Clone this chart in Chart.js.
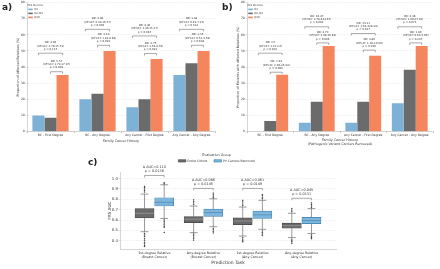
<!DOCTYPE html>
<html><head><meta charset="utf-8">
<script src="https://cdn.jsdelivr.net/npm/chart.js@4.4.1/dist/chart.umd.min.js"></script>
<style>
html,body{margin:0;padding:0;background:#fff;width:440px;height:269px;overflow:hidden;font-family:'DejaVu Sans',sans-serif;}
canvas{position:absolute;display:block;}
.lbl{position:absolute;font-weight:bold;font-size:9px;line-height:9px;color:#222;font-family:'DejaVu Sans',sans-serif;}
</style></head><body>
<canvas id="ca" width="218" height="147" style="left:0;top:0"></canvas>
<canvas id="cb" width="218" height="149" style="left:220px;top:0"></canvas>
<canvas id="cc" width="276" height="120" style="left:97px;top:149px"></canvas>
<div class="lbl" style="left:2px;top:3px">a)</div>
<div class="lbl" style="left:222px;top:3px">b)</div>
<div class="lbl" style="left:88px;top:158px">c)</div>
<script>
// ---------- data: panels a & b ----------
const barCategories = ['BC - First Degree','BC - Any Degree','Any Cancer - First Degree','Any Cancer - Any Degree'];
const decileLabels = ['Q1','Q2-Q9','Q10'];
const barTicks = [0,10,20,30,40,50,60,70,80];
const aQ1 = [10, 20, 15, 35];
const aQ2Q9 = [8.5, 23.5, 20, 42.3];
const aQ10 = [35, 50, 45, 50];
const bQ1 = [0, 5.5, 5.5, 17.5];
const bQ2Q9 = [6.5, 18.5, 18.5, 38.3];
const bQ10 = [35.2, 53.1, 47, 53.1];
const aUpperY = [48.6, 63.4, 59.3, 63.4];
const aLowerY = [37.1, 53.5, 48.4, 53.5];
const aUpperText = [
  ['OR: 4.86','(95%CI: 1.70-15.73)','p = 0.117'],
  ['OR: 3.86','(95%CI: 0.93-16.77)','p = 0.096'],
  ['OR: 4.46','(95%CI: 1.30-15.17)','p = 0.087'],
  ['OR: 1.83','(95%CI: 0.43-7.27)','p = 0.522']];
const aLowerText = [
  ['OR: 5.57','(95%CI: 1.79-17.97)','p = 0.003'],
  ['OR: 3.19','(95%CI: 1.18-8.68)','p = 0.029'],
  ['OR: 3.75','(95%CI: 1.53-8.70)','p = 0.022'],
  ['OR: 1.35','(95%CI: 0.52-3.58)','p = 0.638']];
const bUpperY = [48.6, 65, 60.8, 65];
const bLowerY = [36.8, 55, 50.5, 55];
const bUpperText = [
  ['OR: inf','(95%CI: 1.31-inf)','p = 0.028'],
  ['OR: 16.47','(95%CI: 3.78-413.67)','p = 0.002'],
  ['OR: 13.11','(95%CI: 1.58-328.34)','p = 0.017'],
  ['OR: 4.98','(95%CI: 1.00-27.39)','p = 0.071']];
const bLowerText = [
  ['OR: 7.34','(95%CI: 2.04-26.44)','p = 0.002'],
  ['OR: 4.79','(95%CI: 1.98-16.83)','p = 0.006'],
  ['OR: 3.80','(95%CI: 1.39-10.90)','p = 0.016'],
  ['OR: 1.80','(95%CI: 0.63-5.06)','p = 0.297']];

// ---------- data: panel c ----------
const taskLabels = [['1st-degree Relative','(Breast Cancer)'],['Any-degree Relative','(Breast Cancer)'],['1st-degree Relative','(Any Cancer)'],['Any-degree Relative','(Any Cancer)']];
const taskTicks = [0,1,2,3];
const aucTicks = [0.4,0.5,0.6,0.7,0.8,0.9,1.0];
const groupNames = ['Entire Cohort','PV Carriers Removed'];
const entireQ1 = [0.62, 0.575, 0.555, 0.52];
const entireMed = [0.665, 0.607, 0.59, 0.545];
const entireQ3 = [0.71, 0.633, 0.62, 0.57];
const entireLo = [0.487, 0.478, 0.445, 0.43];
const entireHi = [0.85, 0.735, 0.725, 0.665];
const entireFliers = [
  [0.87,0.885,0.9,0.915,0.925,0.47,0.455,0.44,0.42,0.405,0.385,0.37,0.355,0.345],
  [0.75,0.765,0.78,0.795,0.465,0.45,0.435,0.42,0.405],
  [0.74,0.755,0.775,0.79,0.43,0.415,0.4,0.39],
  [0.68,0.695,0.71,0.415,0.4,0.39,0.375]];
const pvQ1 = [0.735, 0.634, 0.615, 0.565];
const pvMed = [0.77, 0.672, 0.65, 0.595];
const pvQ3 = [0.815, 0.705, 0.685, 0.625];
const pvLo = [0.615, 0.535, 0.51, 0.47];
const pvHi = [0.94, 0.805, 0.79, 0.71];
const pvFliers = [
  [0.95,0.96,0.6,0.585,0.57,0.555,0.54,0.53,0.48],
  [0.815,0.83,0.845,0.86,0.52,0.505,0.49,0.475],
  [0.805,0.82,0.835,0.845,0.495,0.48,0.465,0.45],
  [0.72,0.735,0.75,0.765,0.455,0.44,0.43,0.42]];
const deltaAUC = ['0.110','0.066','0.061','0.045'];
const pValues = ['0.0136','0.0145','0.0149','0.0131'];
const cBracketY = [1.03, 0.905, 0.905, 0.81];

// ---------- styles ----------
const COL_Q1 = '#7db1d6', COL_Q29 = '#6b6b6b', COL_Q10 = '#f4855d';
const FONT = "'DejaVu Sans'";
const TXT = '#333';

function bracketPlugin(upY, upTxt, loY, loTxt){
  return {id:'brackets', afterDatasetsDraw(chart){
    const ctx = chart.ctx, ys = chart.scales.y;
    const m0 = chart.getDatasetMeta(0), m1 = chart.getDatasetMeta(1), m2 = chart.getDatasetMeta(2);
    ctx.save();
    ctx.strokeStyle = '#555'; ctx.lineWidth = 0.5; ctx.fillStyle = TXT;
    ctx.font = '2.7px ' + FONT; ctx.textAlign = 'center'; ctx.textBaseline = 'middle';
    const draw = (x1, x2, y, lines) => {
      ctx.beginPath(); ctx.moveTo(x1, y + 2); ctx.lineTo(x1, y); ctx.lineTo(x2, y); ctx.lineTo(x2, y + 2); ctx.stroke();
      const xm = (x1 + x2) / 2;
      for (let k = 0; k < lines.length; k++) ctx.fillText(lines[k], xm, y - 4 - (lines.length - 1 - k) * 3.3);
    };
    for (let i = 0; i < barCategories.length; i++) {
      draw(m0.data[i].x, m2.data[i].x, ys.getPixelForValue(upY[i]), upTxt[i]);
      draw(m1.data[i].x, m2.data[i].x, ys.getPixelForValue(loY[i]), loTxt[i]);
    }
    ctx.restore();
  }};
}

function barPanel(id, q1, q29, q10, upY, upTxt, loY, loTxt, yTitle, xTitle, rightPad, xTitlePadB){
  new Chart(document.getElementById(id), {
    type: 'bar',
    data: {labels: barCategories, datasets: [
      {label: decileLabels[0], data: q1, backgroundColor: COL_Q1},
      {label: decileLabels[1], data: q29, backgroundColor: COL_Q29},
      {label: decileLabels[2], data: q10, backgroundColor: COL_Q10}]},
    options: {
      responsive: false, animation: false, devicePixelRatio: 1, events: [],
      layout: {padding: {left: 0, right: rightPad, top: 2, bottom: 0}},
      datasets: {bar: {categoryPercentage: 0.77, barPercentage: 1.0, borderWidth: 0}},
      plugins: {
        tooltip: {enabled: false},
        legend: {position: 'chartArea', align: 'start',
          title: {display: true, text: 'PRS Deciles', position: 'start', color: '#444', font: {family: FONT, size: 2.7}, padding: {top: 3.5, bottom: 0}},
          labels: {boxWidth: 4.5, boxHeight: 1.6, color: '#444', font: {family: FONT, size: 2.7}, padding: 1.3}}
      },
      scales: {
        x: {
          grid: {drawOnChartArea: false, tickLength: 1.5, color: '#bbb'},
          border: {color: '#bbb', width: 0.6},
          ticks: {color: TXT, font: {family: FONT, size: 3}, maxRotation: 0, minRotation: 0, autoSkip: false, padding: 0.5},
          title: {display: true, text: xTitle, color: TXT, font: {family: FONT, size: 3.3}, padding: {top: 1, bottom: xTitlePadB}},
          afterFit: s => { s.height = (id === 'ca' ? 147 : 149) - 131.5; }
        },
        y: {
          min: 0, max: 80,
          afterBuildTicks: s => { s.ticks = barTicks.map(v => ({value: v})); },
          grid: {color: '#dcdcdc', lineWidth: 0.5, tickLength: 1.5, tickColor: '#bbb', tickBorderDash: []},
          border: {color: '#bbb', width: 0.6, dash: [1.5, 1.5]},
          ticks: {color: TXT, font: {family: FONT, size: 3}, padding: 0.8},
          title: {display: true, text: yTitle, color: TXT, font: {family: FONT, size: 3.3}, padding: {top: 16, bottom: 1}},
          afterFit: s => { s.width = 27; }
        }
      }
    },
    plugins: [bracketPlugin(upY, upTxt, loY, loTxt)]
  });
}

barPanel('ca', aQ1, aQ2Q9, aQ10, aUpperY, aUpperText, aLowerY, aLowerText,
  'Proportion of Affected Relatives (%)', 'Family Cancer History', 3, 4);
barPanel('cb', bQ1, bQ2Q9, bQ10, bUpperY, bUpperText, bLowerY, bLowerText,
  'Proportion of Patients with Affected Relatives (%)', ['Family Cancer History','(Pathogenic Variant Carriers Removed)'], 5, 2.5);

// ---------- panel c ----------
const OFF = 0.2, CAP = 0.08, HALF = 0.195;
function segs(list){ const out = []; list.forEach(s => { out.push(s[0], s[1], {x: s[1].x, y: null}); }); return out; }
function whiskerData(off, q1, q3, lo, hi){
  const s = [];
  taskTicks.forEach(i => { const x = i + off;
    s.push([{x, y: lo[i]}, {x, y: q1[i]}], [{x, y: q3[i]}, {x, y: hi[i]}],
           [{x: x - CAP, y: lo[i]}, {x: x + CAP, y: lo[i]}], [{x: x - CAP, y: hi[i]}, {x: x + CAP, y: hi[i]}]); });
  return segs(s);
}
function medianData(off, med){ return segs(taskTicks.map(i => [{x: i + off - HALF, y: med[i]}, {x: i + off + HALF, y: med[i]}])); }
function flierData(off, fl){ const out = []; taskTicks.forEach(i => fl[i].forEach(v => out.push({x: i + off, y: v}))); return out; }

const cBracket = {id: 'cbr', afterDatasetsDraw(chart){
  const ctx = chart.ctx, xs = chart.scales.x, ys = chart.scales.y;
  ctx.save(); ctx.strokeStyle = '#555'; ctx.lineWidth = 0.5; ctx.fillStyle = TXT;
  ctx.font = '3.4px ' + FONT; ctx.textAlign = 'center'; ctx.textBaseline = 'middle';
  taskTicks.forEach(i => {
    const x1 = xs.getPixelForValue(i - OFF), x2 = xs.getPixelForValue(i + OFF), y = ys.getPixelForValue(cBracketY[i]);
    ctx.beginPath(); ctx.moveTo(x1, y + 2); ctx.lineTo(x1, y); ctx.lineTo(x2, y); ctx.lineTo(x2, y + 2); ctx.stroke();
    ctx.fillText('\u0394 AUC=' + deltaAUC[i], (x1 + x2) / 2, y - 8);
    ctx.fillText('p = ' + pValues[i], (x1 + x2) / 2, y - 4);
  });
  ctx.restore();
}};

new Chart(document.getElementById('cc'), {
  type: 'bar',
  data: {datasets: [
    {type: 'bar', label: groupNames[0], order: 2, grouped: false, barThickness: 19, borderSkipped: false,
     backgroundColor: '#6a6a6a', borderColor: '#474747', borderWidth: 0.7,
     data: taskTicks.map(i => ({x: i - OFF, y: [entireQ1[i], entireQ3[i]]}))},
    {type: 'bar', label: groupNames[1], order: 2, grouped: false, barThickness: 19, borderSkipped: false,
     backgroundColor: '#7db6da', borderColor: '#3f7fae', borderWidth: 0.7,
     data: taskTicks.map(i => ({x: i + OFF, y: [pvQ1[i], pvQ3[i]]}))},
    {type: 'line', label: 'w0', order: 3, data: whiskerData(-OFF, entireQ1, entireQ3, entireLo, entireHi), borderColor: '#555', borderWidth: 0.6, pointRadius: 0, spanGaps: false},
    {type: 'line', label: 'w1', order: 3, data: whiskerData(OFF, pvQ1, pvQ3, pvLo, pvHi), borderColor: '#555', borderWidth: 0.6, pointRadius: 0, spanGaps: false},
    {type: 'line', label: 'm0', order: 1, data: medianData(-OFF, entireMed), borderColor: '#a0a0a0', borderWidth: 0.7, pointRadius: 0, spanGaps: false},
    {type: 'line', label: 'm1', order: 1, data: medianData(OFF, pvMed), borderColor: '#4a88b8', borderWidth: 0.7, pointRadius: 0, spanGaps: false},
    {type: 'line', label: 'f0', order: 0, data: flierData(-OFF, entireFliers), showLine: false, pointStyle: 'rectRot', pointRadius: 0.9, pointBackgroundColor: '#444', pointBorderWidth: 0},
    {type: 'line', label: 'f1', order: 0, data: flierData(OFF, pvFliers), showLine: false, pointStyle: 'rectRot', pointRadius: 0.9, pointBackgroundColor: '#444', pointBorderWidth: 0}
  ]},
  options: {
    responsive: false, animation: false, devicePixelRatio: 1, events: [],
    layout: {padding: {left: 0, right: 37, top: 0, bottom: 0}},
    plugins: {
      tooltip: {enabled: false},
      legend: {position: 'top', align: 'center',
        title: {display: true, text: 'Evaluation Group', color: TXT, font: {family: FONT, size: 3.3}, padding: {top: 4, bottom: 0.4}},
        labels: {boxWidth: 7.5, boxHeight: 2.4, color: TXT, font: {family: FONT, size: 3.0}, padding: 2,
          generateLabels: chart => [0, 1].map(k => ({
            text: k === 0 ? groupNames[0] + '     ' : groupNames[1],
            fillStyle: chart.data.datasets[k].backgroundColor, strokeStyle: chart.data.datasets[k].borderColor,
            lineWidth: 0.6, datasetIndex: k, fontColor: TXT}))}}
    },
    scales: {
      x: {type: 'linear', min: -0.7, max: 3.7, offset: false,
        afterBuildTicks: s => { s.ticks = taskTicks.map(v => ({value: v})); },
        grid: {drawOnChartArea: false, offset: false, tickLength: 1.5, color: '#bbb'},
        border: {color: '#bbb', width: 0.6},
        ticks: {color: TXT, font: {family: FONT, size: 3.3}, padding: 0.5, maxRotation: 0, autoSkip: false, callback: v => taskLabels[v]},
        title: {display: true, text: 'Prediction Task', color: TXT, font: {family: FONT, size: 4.5}, padding: {top: 1, bottom: 3.3}},
        afterFit: s => { s.height = 20; }
      },
      y: {min: 0.32, max: 1.06,
        afterBuildTicks: s => { s.ticks = aucTicks.map(v => ({value: v})); },
        grid: {color: '#dcdcdc', lineWidth: 0.5, tickLength: 1.5, tickColor: '#bbb'},
        border: {color: '#bbb', width: 0.6, dash: [1.5, 1.5]},
        ticks: {color: TXT, font: {family: FONT, size: 3.8}, padding: 0.6, callback: v => v.toFixed(1)},
        title: {display: true, text: 'PRS AUC', color: TXT, font: {family: FONT, size: 4.2}, padding: {top: 10.5, bottom: 1}},
        afterFit: s => { s.width = 23; }
      }
    }
  },
  plugins: [cBracket]
});
</script>
</body></html>
